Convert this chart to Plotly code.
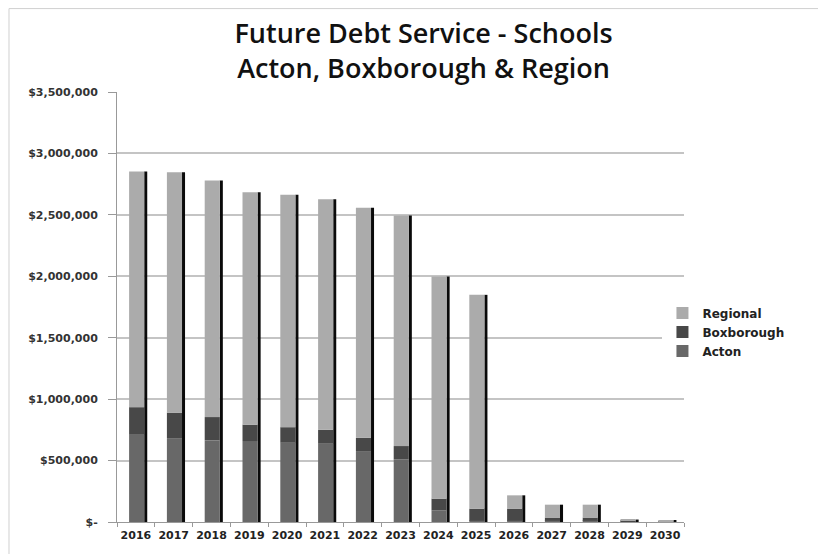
import plotly.graph_objects as go

years = ["2016", "2017", "2018", "2019", "2020", "2021", "2022", "2023",
         "2024", "2025", "2026", "2027", "2028", "2029", "2030"]
acton = [710000, 678000, 664000, 659000, 645000, 637000, 572000, 510000,
         95000, 10000, 10000, 10000, 10000, 5000, 3000]
boxborough = [225000, 212000, 190000, 133000, 127000, 114000, 114000, 108000,
              95000, 99000, 99000, 26000, 26000, 10000, 4000]
regional = [1918000, 1956000, 1925000, 1892000, 1891000, 1876000, 1871000, 1876000,
            1808000, 1740000, 108000, 105000, 105000, 5000, 3000]

totals = [a + b + r for a, b, r in zip(acton, boxborough, regional)]
base_box = acton
base_reg = [a + b for a, b in zip(acton, boxborough)]

ytickvals = [0, 500000, 1000000, 1500000, 2000000, 2500000, 3000000, 3500000]
yticktext = ["$-", "$500,000", "$1,000,000", "$1,500,000", "$2,000,000",
             "$2,500,000", "$3,000,000", "$3,500,000"]

BW = 0.40
OFF = -0.18
fig = go.Figure()
# shadow
fig.add_trace(go.Bar(x=years, y=totals, base=[0] * len(years), width=0.08, offset=OFF + BW,
                     marker=dict(color="#0a0a0a", line=dict(width=0)),
                     showlegend=False, hoverinfo="skip"))
fig.add_trace(go.Bar(x=years, y=acton, base=[0] * len(years), name="Acton", width=BW, offset=OFF,
                     marker=dict(color="#686868", line=dict(width=0))))
fig.add_trace(go.Bar(x=years, y=boxborough, base=base_box, name="Boxborough", width=BW, offset=OFF,
                     marker=dict(color="#484848", line=dict(width=0))))
fig.add_trace(go.Bar(x=years, y=regional, base=base_reg, name="Regional", width=BW, offset=OFF,
                     marker=dict(color="#ababab", line=dict(width=0))))

fig.update_layout(
    width=818, height=546,
    barmode="overlay",
    paper_bgcolor="white", plot_bgcolor="white",
    margin=dict(l=109, r=142, t=84, b=32),
    title=dict(text="Future Debt Service - Schools<br>Acton, Boxborough & Region",
               x=0.508, xanchor="center", y=0.936, yanchor="middle",
               font=dict(family="Open Sans", size=27, color="#111111", weight=600)),
    font=dict(family="DejaVu Sans", color="#222222"),
    legend=dict(x=0.962, y=0.442, xanchor="left", yanchor="middle",
                traceorder="reversed", font=dict(size=12, weight="bold", color="#222222"),
                itemwidth=30, tracegroupgap=2),
    showlegend=True,
)
fig.update_xaxes(type="category", showline=True, linecolor="#999999", linewidth=1,
                 ticks="outside", tickson="boundaries", ticklen=4, tickcolor="#999999",
                 tickangle=0, automargin=False, ticklabelstandoff=3,
                 tickfont=dict(size=11, weight="bold", color="#222222"), showgrid=False)
fig.update_yaxes(range=[0, 3500000], tickvals=ytickvals, ticktext=yticktext,
                 showline=True, linecolor="#999999", linewidth=1,
                 ticks="outside", ticklen=8, tickcolor="#999999", ticklabelstandoff=8,
                 showgrid=True, gridcolor="#c4c4c4", gridwidth=1.5, automargin=False,
                 tickfont=dict(size=11, weight="bold", color="#333333"), zeroline=False)

# frame of the original picture
fig.add_shape(type="line", xref="paper", yref="paper", x0=-0.1905, x1=-0.1905, y0=-0.1, y1=1.194,
              line=dict(color="#d0d0d0", width=1))
fig.add_shape(type="line", xref="paper", yref="paper", x0=-0.1905, x1=1.3, y0=1.194, y1=1.194,
              line=dict(color="#d0d0d0", width=1))

fig.write_html("out.html")
